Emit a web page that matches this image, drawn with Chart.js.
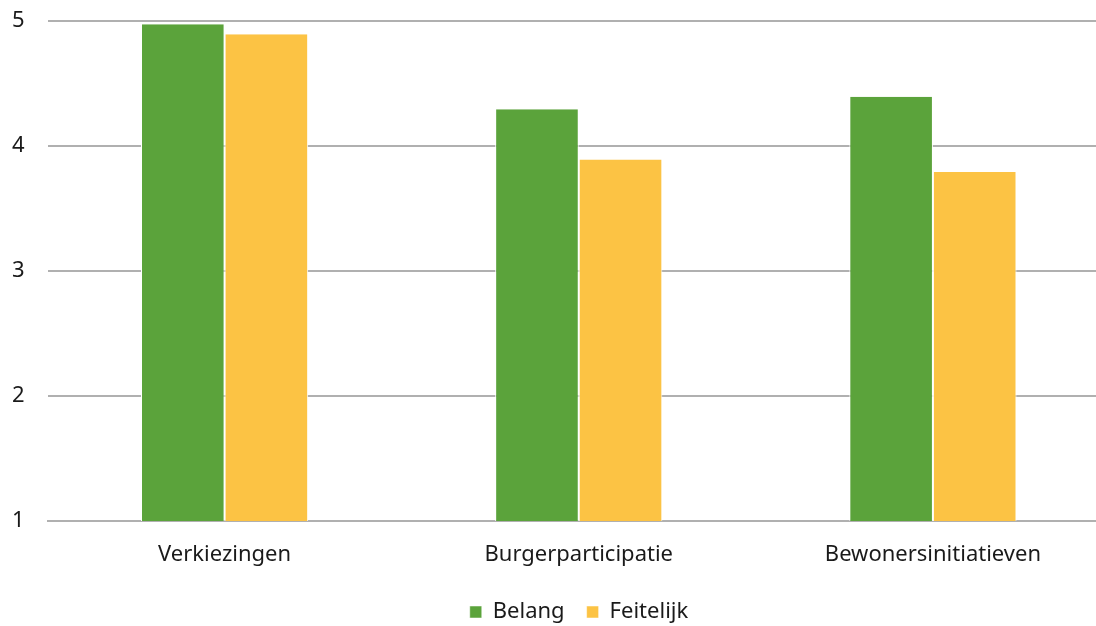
<!DOCTYPE html>
<html>
<head>
<meta charset="utf-8">
<script src="https://cdn.jsdelivr.net/npm/chart.js@4/dist/chart.umd.min.js"></script>
<style>
  html, body { margin: 0; padding: 0; overflow: hidden; background: #fff; }
  #wrap { width: 1112px; height: 626px; }
</style>
</head>
<body>
<div id="wrap"><canvas id="myChart" width="1112" height="626"></canvas></div>
<script>
const categories = ['Verkiezingen', 'Burgerparticipatie', 'Bewonersinitiatieven'];
const belang = [4.97, 4.29, 4.39];
const feitelijk = [4.89, 3.89, 3.79];
const yTicks = [1, 2, 3, 4, 5];

// nudge the legend a bit to the right, like the original
const legendShift = {
    id: 'legendShift',
    afterLayout: function(chart) {
        chart.legend.left += 18;
        chart.legend.right += 18;
    }
};

const ctx = document.getElementById('myChart').getContext('2d');
const myChart = new Chart(ctx, {
    type: 'bar',
    data: {
        labels: categories,
        datasets: [{
            label: 'Belang',
            data: belang,
            backgroundColor: '#5BA33B',
            borderColor: '#ffffff',
            borderWidth: {left: 1, right: 1, top: 0, bottom: 0},
            categoryPercentage: 0.472,
            barPercentage: 1
        }, {
            label: 'Feitelijk',
            data: feitelijk,
            backgroundColor: '#FCC344',
            borderColor: '#ffffff',
            borderWidth: {left: 1, right: 1, top: 0, bottom: 0},
            categoryPercentage: 0.472,
            barPercentage: 1
        }]
    },
    options: {
        responsive: false,
        animation: false,
        layout: { padding: { top: 20.5, right: 2, left: 12, bottom: -7 } },
        scales: {
            x: {
                grid: { display: false },
                border: { color: '#B0B0B0', width: 2 },
                ticks: {
                    color: '#1a1a1a',
                    padding: 13,
                    font: { family: 'Noto Sans', size: 22 }
                },
                afterFit: function(scale) { scale.height = 58; }
            },
            y: {
                min: 1,
                max: 5,
                afterBuildTicks: function(scale) {
                    scale.ticks = yTicks.map(v => ({ value: v }));
                },
                grid: { color: '#B0B0B0', lineWidth: 2, drawTicks: false },
                border: { display: false },
                ticks: {
                    color: '#1a1a1a',
                    padding: 0,
                    crossAlign: 'far',
                    font: { family: 'Noto Sans', size: 22 }
                },
                afterFit: function(scale) { scale.width = 35.5; }
            }
        },
        plugins: {
            legend: {
                position: 'bottom',
                labels: {
                    color: '#1a1a1a',
                    boxWidth: 12,
                    boxHeight: 12,
                    padding: 22,
                    font: { family: 'Noto Sans', size: 22 }
                }
            },
            tooltip: { enabled: false }
        }
    },
    plugins: [legendShift]
});
</script>
</body>
</html>
